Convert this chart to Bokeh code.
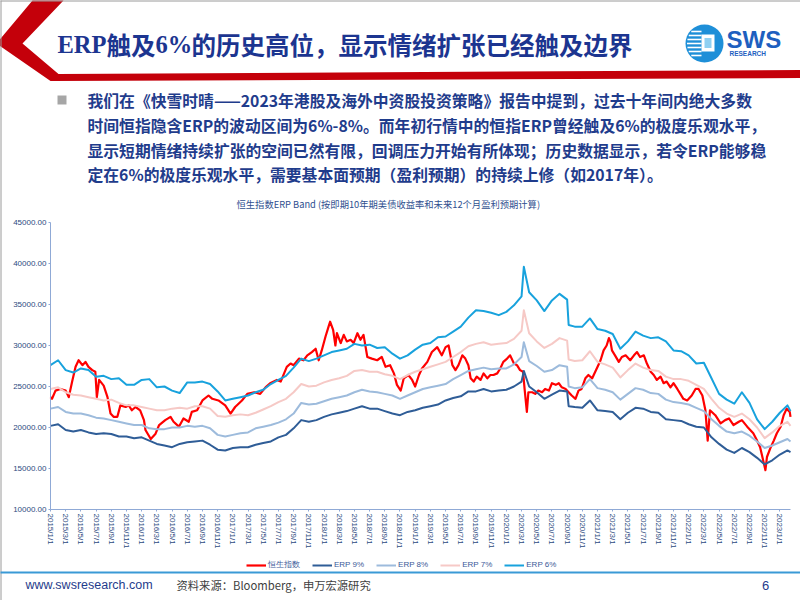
from bokeh.plotting import figure
from bokeh.models import Range1d, FixedTicker, NumeralTickFormatter, Legend, LegendItem
from bokeh.embed import file_html
from bokeh.resources import INLINE
from bokeh.core.properties import value

# ---------------- data (x = months since 2015/1/1) ----------------
x_tick_pos = [0, 2, 4, 6, 8, 10, 12, 14, 16, 18, 20, 22, 24, 26, 28, 30, 32, 34, 36, 38,
              40, 42, 44, 46, 48, 50, 52, 54, 56, 58, 60, 62, 64, 66, 68, 70, 72, 74, 76, 78,
              80, 82, 84, 86, 88, 90, 92, 94, 96]
x_tick_labels = ["2015/1/1", "2015/3/1", "2015/5/1", "2015/7/1", "2015/9/1", "2015/11/1",
                 "2016/1/1", "2016/3/1", "2016/5/1", "2016/7/1", "2016/9/1", "2016/11/1",
                 "2017/1/1", "2017/3/1", "2017/5/1", "2017/7/1", "2017/9/1", "2017/11/1",
                 "2018/1/1", "2018/3/1", "2018/5/1", "2018/7/1", "2018/9/1", "2018/11/1",
                 "2019/1/1", "2019/3/1", "2019/5/1", "2019/7/1", "2019/9/1", "2019/11/1",
                 "2020/1/1", "2020/3/1", "2020/5/1", "2020/7/1", "2020/9/1", "2020/11/1",
                 "2021/1/1", "2021/3/1", "2021/5/1", "2021/7/1", "2021/9/1", "2021/11/1",
                 "2022/1/1", "2022/3/1", "2022/5/1", "2022/7/1", "2022/9/1", "2022/11/1",
                 "2023/1/1"]
y_ticks = [10000, 15000, 20000, 25000, 30000, 35000, 40000, 45000]

band_month = [*range(0, 63), 62.3, *range(63, 69), 68.2, *range(69, 98), 97.4]

erp6 = [27600, 28200, 27000, 26700, 27200, 27000, 26200, 26300, 25900, 26000,
        25200, 25200, 25800, 25900, 24900, 25000, 24500, 24200, 25500, 25500,
        25600, 25300, 24400, 23300, 23500, 23700, 23900, 24300, 24600, 25300,
        25800, 26300, 27300, 28400, 28100, 28400, 28800, 29200, 29400, 29600,
        30200, 30000, 30100, 29700, 29800, 29000, 28400, 28800, 29500, 30100,
        30300, 31000, 31100, 31700, 32300, 33400, 34300, 34200, 34000, 33700,
        34100, 34900, 36000,
        39600,
        36500, 35500, 34200, 35500, 36300, 35600,
        32500,
        32300, 32300, 33300, 32000, 31800, 31400, 29600, 30500, 31700, 31200,
        30900, 31000, 30500, 29400, 29300, 28800, 27800, 27900, 26000, 24100,
        23400, 22900, 24300, 23000, 21000, 19800, 20700, 21800, 22700,
        22000]

erp9 = [20200, 20400, 19700, 19500, 19700, 19400, 19200, 19300, 19200, 18900,
        18900, 18700, 18800, 18400, 18000, 17800, 17600, 18000, 18200, 18300,
        18400, 17900, 17300, 17200, 17500, 17600, 17600, 17900, 18100, 18300,
        18800, 19100, 19900, 20900, 20700, 20900, 21300, 21600, 21800, 22000,
        22300, 22600, 22300, 22300, 22000, 21700, 21500, 21900, 22100, 22400,
        22600, 22800, 23300, 23600, 23800, 24400, 24400, 24700, 24400, 24500,
        24600, 25000, 25600,
        26900,
        25000, 24300, 23500, 24000, 24500, 24400,
        22600,
        22500, 22400, 23300, 22100, 22000, 21900, 21000, 21800, 22400, 22300,
        21900, 21800, 21000, 20900, 20800, 20400, 20100, 20000, 18800, 18000,
        17300, 16900, 17500, 17000, 16300, 15500, 16000, 16700, 17200,
        17000]

erp8 = [22300, 22500, 21900, 21700, 21700, 21500, 21200, 21100, 20900, 20700,
        20500, 20300, 20300, 19900, 19800, 19800, 20000, 20000, 20200, 20100,
        20200, 19900, 19100, 18900, 19100, 19300, 19400, 19900, 20100, 20300,
        20600, 21000, 21700, 23000, 22800, 22900, 23200, 23500, 23700, 23900,
        24300, 24600, 24400, 24300, 24100, 23900, 23500, 23900, 24300, 24700,
        24900, 25100, 25300, 25900, 26400, 26900, 27100, 27300, 27100, 27200,
        27200, 27700, 28600,
        30400,
        28100, 27500, 26800, 27000, 27600, 27400,
        25000,
        24800, 24900, 25900, 24800, 24600, 24300, 23400, 24100, 24800, 24600,
        24200, 24100, 23400, 23100, 23000, 22800, 22400, 22000, 21000, 20200,
        19500, 19300, 19500, 19000, 18300, 17500, 17800, 18200, 18600,
        18300]

erp7 = [24700, 24900, 24300, 24000, 23900, 23700, 23500, 23300, 23400, 23000,
        22700, 22700, 22500, 22300, 22100, 22100, 22300, 22400, 22300, 22600,
        22600, 22300, 21400, 21300, 21500, 21600, 21500, 21800, 22200, 22600,
        23100, 23500, 24300, 25300, 25000, 25100, 25500, 25800, 26000, 26300,
        26900, 27000, 26800, 26800, 26500, 26300, 25900, 26400, 26800, 27100,
        27400, 27700, 28000, 28600, 29200, 29900, 30200, 30400, 30100, 30200,
        30300, 30800, 31800,
        34300,
        31500, 30500, 29700, 30200, 30900, 30600,
        28300,
        28100, 28200, 29300, 28000, 27700, 27300, 26100, 27000, 27800, 27300,
        27000, 26900, 26200, 25900, 25900, 25700, 25200, 24700, 23500, 22400,
        21700, 21300, 21700, 21000, 20000, 18700, 19400, 20200, 20700,
        20200]

hsi_month = [0.0, 0.2, 0.66, 1.3, 2.0, 2.4, 2.85, 3.3, 3.7, 4.2, 4.6, 5.0, 5.5, 5.9, 6.1, 6.4,
             7.0, 7.5, 7.9, 8.3, 8.8, 9.2, 9.9, 10.3, 10.7, 11.2, 11.8, 12.3, 12.5, 13.2, 13.8,
             14.3, 15.1, 15.8, 16.2, 16.9, 17.5, 18.2, 18.6, 19.3, 20.0, 20.8, 21.3, 22.1, 23.0,
             23.7, 24.3, 25.2, 25.9, 26.8, 27.6, 28.3, 28.9, 29.8, 30.3, 31.1, 31.6, 32.0, 32.7,
             33.3, 33.8, 34.4, 34.9, 35.3, 35.7, 36.2, 36.6, 36.8, 37.2, 37.5, 37.7, 38.2, 38.6,
             39.0, 39.5, 39.9, 40.4, 40.8, 41.2, 41.7, 42.3, 43.0, 43.6, 44.1, 44.7, 45.2, 45.6,
             46.1, 46.5, 47.1, 47.6, 48.0, 48.5, 48.9, 49.6, 50.2, 50.9, 51.5, 52.0, 52.4, 52.9,
             53.3, 53.7, 54.2, 54.6, 55.0, 55.3, 55.7, 56.1, 56.6, 57.0, 57.5, 57.9, 58.3, 58.8,
             59.2, 59.6, 60.1, 60.5, 61.0, 61.4, 61.8, 62.2, 62.4, 62.7, 62.9, 63.4, 63.8, 64.2,
             64.7, 65.1, 65.6, 66.0, 66.5, 66.9, 67.3, 67.8, 68.2, 68.6, 69.1, 69.5, 69.9, 70.4,
             70.8, 71.3, 71.7, 72.1, 72.4, 72.8, 73.2, 73.5, 73.7, 73.9, 74.3, 74.8, 75.2, 75.7,
             76.3, 76.8, 77.2, 77.6, 78.1, 78.5, 79.0, 79.4, 79.8, 80.3, 80.7, 81.1, 81.6, 82.0,
             82.5, 82.9, 83.3, 83.8, 84.4, 84.9, 85.3, 85.8, 86.2, 86.3, 86.5, 86.8, 87.5, 88.2,
             88.8, 89.3, 89.9, 90.6, 91.0, 91.7, 92.1, 92.5, 93.0, 93.4, 93.9, 94.1, 94.3, 94.8,
             95.2, 95.6, 96.1, 96.5, 96.9, 97.3, 97.4]
hsi_value = [23700, 23500, 24500, 24700, 24500, 23700, 25600, 27400, 28200, 27600, 28000, 27400, 27000, 26800, 23700, 25800,
             25100, 23700, 21700, 21300, 21300, 22700, 22500, 22700, 22100, 22500, 22100, 20900, 19700, 18600, 19200,
             20300, 20900, 21300, 20700, 20100, 21100, 20700, 21900, 22100, 23300, 23900, 23500, 23300, 22700,
             21700, 22500, 23300, 24100, 24300, 24100, 24900, 25400, 25800, 25600, 27400, 27800, 27600, 28400,
             28200, 28800, 29200, 29600, 28200, 29400, 31100, 32300, 32900, 31900, 30000, 31500, 30300, 31300,
             30500, 30700, 30300, 31500, 30700, 31300, 28600, 28400, 28200, 28600, 27400, 27600, 26600, 25200,
             24500, 26000, 26400, 25800, 25000, 26400, 27200, 28000, 29200, 29800, 28800, 29800, 30000, 27600,
             27000, 27600, 28800, 28400, 27600, 26000, 25600, 26200, 25800, 26600, 26000, 26400, 26400, 26600,
             27200, 28000, 28400, 28800, 27800, 27600, 27000, 26800, 24700, 21900, 24300, 24300, 24100, 24500,
             24300, 24700, 24500, 25400, 25200, 25400, 24900, 24700, 24300, 23900, 23500, 24500, 24700, 26000,
             26400, 26000, 26800, 27600, 28200, 29400, 30000, 30900, 30500, 29400, 28800, 28000, 28600, 28800,
             28200, 28800, 29200, 28600, 28800, 27800, 26800, 26400, 25800, 26200, 25400, 25600, 24900, 25400,
             24700, 24100, 23500, 23300, 23900, 24700, 24700, 23900, 22100, 20900, 18400, 22100, 21500, 20500,
             20900, 21100, 20300, 20700, 20900, 20100, 19700, 19300, 18400, 17600, 15600, 14800, 16400, 17600,
             18400, 19300, 20100, 21500, 22300, 21900, 21300]

series_names = ["恒生指数", "ERP 9%", "ERP 8%", "ERP 7%", "ERP 6%"]

# ---------------- styles ----------------
NAVY = "#1c3590"
TXT_BLUE = "#1f3c8c"
AX_COL = "#2d4a80"
AX_LINE = "#8fa9d6"
C_HSI = "#ff0000"
C_E9 = "#2f5d97"
C_E8 = "#9dbbdc"
C_E7 = "#f6c9c6"
C_E6 = "#18a2dd"
CJK = "Noto Sans CJK SC"

W, H = 800, 600
# chart area on the slide: x 50..790 px (months 0..97.4), y 222..509 px (45000..10000)
X0_PX, X1_PX, M_END = 50.0, 790.0, 97.4
Y_TOP_PX, Y_BOT_PX, V_TOP, V_BOT = 222.0, 509.0, 45000.0, 10000.0
px_per_m = (X1_PX - X0_PX) / M_END
v_per_px = (V_TOP - V_BOT) / (Y_BOT_PX - Y_TOP_PX)

p = figure(width=W, height=H,
           x_range=Range1d(-X0_PX / px_per_m, M_END + (W - X1_PX) / px_per_m),
           y_range=Range1d(V_BOT - (H - Y_BOT_PX) * v_per_px, V_TOP + Y_TOP_PX * v_per_px),
           output_backend="svg", toolbar_location=None, min_border=0, outline_line_color=None)
p.grid.visible = False
p.extra_x_ranges = {"px": Range1d(0, W)}
p.extra_y_ranges = {"py": Range1d(H, 0)}
PX = dict(x_range_name="px", y_range_name="py", level="overlay")

# ---------------- chart lines ----------------
r_hsi = p.line(hsi_month, hsi_value, line_color=C_HSI, line_width=2.2, line_join="round")
r9 = p.line(band_month, erp9, line_color=C_E9, line_width=2, line_join="round")
r8 = p.line(band_month, erp8, line_color=C_E8, line_width=2, line_join="round")
r7 = p.line(band_month, erp7, line_color=C_E7, line_width=2, line_join="round")
r6 = p.line(band_month, erp6, line_color=C_E6, line_width=2, line_join="round")

p.yaxis.ticker = FixedTicker(ticks=y_ticks)
p.yaxis.formatter = NumeralTickFormatter(format="0.00")
p.yaxis.fixed_location = 0
p.yaxis.bounds = (V_BOT, V_TOP)
p.xaxis.ticker = FixedTicker(ticks=x_tick_pos)
p.xaxis.major_label_overrides = dict(zip(x_tick_pos, x_tick_labels))
p.xaxis.major_label_orientation = "vertical"
p.xaxis.fixed_location = V_BOT
p.xaxis.bounds = (0, M_END)
for ax in (p.xaxis[0], p.yaxis[0]):
    ax.axis_line_color = AX_LINE
    ax.major_tick_line_color = AX_LINE
    ax.major_tick_out = 2
    ax.major_tick_in = 0
    ax.minor_tick_line_color = None
    ax.major_label_text_font = "Liberation Sans"
    ax.major_label_text_font_size = "8px"
    ax.major_label_text_color = AX_COL
    ax.major_label_standoff = 2

legend = Legend(items=[LegendItem(label=series_names[0], renderers=[r_hsi]),
                       LegendItem(label=series_names[1], renderers=[r9]),
                       LegendItem(label=series_names[2], renderers=[r8]),
                       LegendItem(label=series_names[3], renderers=[r7]),
                       LegendItem(label=series_names[4], renderers=[r6])],
                orientation="horizontal", location=(246, 30), border_line_color=None,
                background_fill_alpha=0, label_text_font="Liberation Sans",
                label_text_font_size="8px", label_text_color="#3b5998",
                glyph_width=20, glyph_height=8, label_height=8,
                label_standoff=2, spacing=12, padding=2, margin=0)
p.add_layout(legend)

# ---------------- slide: header ----------------
p.patch(x=[32, 63, 22, 58, 802, 802, 50, -4], y=[0, 0, 43, 73.5, 69.5, 77.5, 80.5, 43],
        fill_color="#c4000a", line_color=None, **PX)
p.segment(x0=[0.5, 0], y0=[0, 0.5], x1=[0.5, 802], y1=[602, 0.5], line_color="#9a9a9a",
          line_width=1, **PX)

p.text(x=[57], y=[44], text=["ERP"], text_font=value("Liberation Serif"), text_font_style="bold",
       text_font_size="24.5px", text_color=NAVY, text_baseline="middle", text_align="left", **PX)
p.text(x=[106], y=[44], text=["触及"], text_font=value(CJK), text_font_style="bold",
       text_font_size="24.5px", text_color=NAVY, text_baseline="middle", text_align="left", **PX)
p.text(x=[155], y=[44], text=["6%"], text_font=value("Liberation Serif"), text_font_style="bold",
       text_font_size="24.5px", text_color=NAVY, text_baseline="middle", text_align="left", **PX)
p.text(x=[191], y=[44], text=["的历史高位，显示情绪扩张已经触及边界"], text_font=value(CJK),
       text_font_style="bold", text_font_size="24.5px", text_color=NAVY, text_baseline="middle",
       text_align="left", **PX)

# logo
p.scatter(x=[704], y=[43], size=38, marker="circle", fill_color="#1e8fd8", line_color=None, **PX)
stripe_y = [31, 35, 39, 43, 47, 51, 55]
stripe_x0 = [704 - (19 ** 2 - (yy - 43) ** 2) ** 0.5 + 1.5 for yy in stripe_y]
p.segment(x0=stripe_x0, y0=stripe_y, x1=[701] * len(stripe_y), y1=stripe_y,
          line_color="white", line_width=1.6, **PX)
p.quad(left=[701], right=[714], top=[34], bottom=[51], fill_color="white", line_color=None, **PX)
p.quad(left=[704], right=[711], top=[37.5], bottom=[47.5], fill_color="#8fd0f2", line_color=None, **PX)
p.text(x=[726], y=[39], text=["SWS"], text_font=value("Liberation Sans"), text_font_style="bold",
       text_font_size="24px", text_color="#1e5fbf", text_baseline="middle", text_align="left", **PX)
p.text(x=[729], y=[52.5], text=["RESEARCH"], text_font=value("Liberation Sans"),
       text_font_style="bold", text_font_size="6.5px", text_color="#1e5fbf",
       text_baseline="middle", text_align="left", **PX)

# ---------------- slide: bullet text ----------------
p.quad(left=[57], right=[66], top=[95], bottom=[104], fill_color="#a6a6a6", line_color=None, **PX)
bullet_lines = ["我们在《快雪时晴——2023年港股及海外中资股投资策略》报告中提到，过去十年间内绝大多数",
                "时间恒指隐含ERP的波动区间为6%-8%。而年初行情中的恒指ERP曾经触及6%的极度乐观水平，",
                "显示短期情绪持续扩张的空间已然有限，回调压力开始有所体现；历史数据显示，若令ERP能够稳",
                "定在6%的极度乐观水平，需要基本面预期（盈利预期）的持续上修（如2017年）。"]
p.text(x=[87, 87, 87, 87], y=[100, 125, 149.5, 174], text=bullet_lines, text_font=value(CJK),
       text_font_style="bold", text_font_size="15.8px", text_color=TXT_BLUE,
       text_baseline="middle", text_align="left", **PX)

p.text(x=[236], y=[203], text=["恒生指数ERP Band   (按即期10年期美债收益率和未来12个月盈利预期计算)"],
       text_font=value(CJK), text_font_size="9.3px", text_color="#2f4f8f",
       text_baseline="middle", text_align="left", **PX)

# ---------------- slide: footer ----------------
p.segment(x0=[0], y0=[572], x1=[802], y1=[572], line_color="#3a9ad6", line_width=2, **PX)
p.text(x=[25], y=[584.5], text=["www.swsresearch.com"], text_font=value("Liberation Sans"),
       text_font_size="12.5px", text_color=TXT_BLUE, text_baseline="middle", text_align="left", **PX)
p.text(x=[176], y=[584.5], text=["资料来源：Bloomberg，申万宏源研究"], text_font=value(CJK),
       text_font_size="11.3px", text_color="#404040", text_baseline="middle", text_align="left", **PX)
p.text(x=[765], y=[584.5], text=["6"], text_font=value("Liberation Sans"),
       text_font_size="13px", text_color=TXT_BLUE, text_baseline="middle", text_align="center", **PX)

open("out.html", "w").write(file_html(p, INLINE))
